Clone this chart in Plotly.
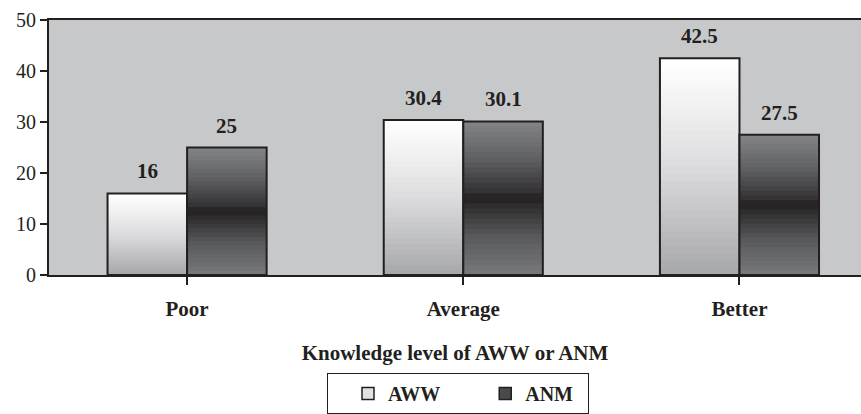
import plotly.graph_objects as go

categories = ["Poor", "Average", "Better"]
aww_values = [16, 30.4, 42.5]
anm_values = [25, 30.1, 27.5]
series_names = ["AWW", "ANM"]
y_ticks = [0, 10, 20, 30, 40, 50]

FONT = "Liberation Serif"
INK = "#231f20"
N_SEG = 30
BAR_W = 0.288
NB = "\u00a0"


def hex2rgb(h):
    h = h.lstrip("#")
    return [int(h[i:i + 2], 16) for i in (0, 2, 4)]


def grad(stops, t):
    for (t0, c0), (t1, c1) in zip(stops, stops[1:]):
        if t0 <= t <= t1:
            f = (t - t0) / (t1 - t0) if t1 > t0 else 0
            a, b = hex2rgb(c0), hex2rgb(c1)
            return "rgb(%d,%d,%d)" % tuple(round(a[i] + (b[i] - a[i]) * f) for i in range(3))
    return stops[-1][1]


aww_stops = [(0, "#a6a7aa"), (0.5, "#dcdcde"), (0.75, "#efeff0"), (1, "#ffffff")]
anm_stops = [(0, "#78797c"), (0.25, "#58595c"), (0.45, "#2f2d2e"), (0.5, "#221f20"),
             (0.55, "#353335"), (0.75, "#5e5f62"), (1, "#838487")]

x_idx = list(range(len(categories)))
fig = go.Figure()

for vals, stops, off in [(aww_values, aww_stops, -BAR_W), (anm_values, anm_stops, 0.0)]:
    for k in range(N_SEG):
        t = (k + 0.5) / N_SEG
        bases = [v * k / N_SEG for v in vals]
        heights = [min(v / N_SEG * 2.0, v - b) for v, b in zip(vals, bases)]
        fig.add_trace(go.Bar(
            x=x_idx, y=heights, base=bases,
            width=BAR_W, offset=off,
            marker=dict(color=grad(stops, t), line=dict(width=0)),
            showlegend=False, hoverinfo="skip"))
    fig.add_trace(go.Bar(
        x=x_idx, y=vals, base=[0] * len(vals), width=BAR_W, offset=off,
        marker=dict(color="rgba(0,0,0,0)", line=dict(width=2, color=INK)),
        showlegend=False, hoverinfo="skip"))

# legend entries
fig.add_trace(go.Bar(x=[None], y=[None], name=series_names[0] + NB * 8,
                     marker=dict(color="#e2e2e4", line=dict(width=1.5, color=INK))))
fig.add_trace(go.Bar(x=[None], y=[None], name=series_names[1] + NB * 2,
                     marker=dict(color="#4a4a4c", line=dict(width=1.5, color=INK))))

for vals, off in [(aww_values, -BAR_W / 2), (anm_values, BAR_W / 2)]:
    for i, v in enumerate(vals):
        fig.add_annotation(x=i + off, y=v, xref="x", yref="y", text=f"{v:g}",
                           showarrow=False, yanchor="bottom", yshift=8,
                           font=dict(family=FONT, size=21, color=INK, weight="bold"))

fig.update_layout(
    width=861, height=414,
    margin=dict(l=49, r=0, t=20, b=139, autoexpand=False),
    barmode="overlay",
    paper_bgcolor="white",
    plot_bgcolor="#c7c8ca",
    showlegend=True,
    legend=dict(orientation="h", x=(327 - 49) / 812, xanchor="left", y=-0.384, yanchor="top",
                bordercolor=INK, borderwidth=1, bgcolor="white",
                title=dict(text=NB * 2, font=dict(family=FONT, size=20, color=INK)),
                font=dict(family=FONT, size=20, color=INK, weight="bold"),
                itemwidth=30, traceorder="normal"),
    xaxis=dict(range=[-0.5, 2.44], tickmode="array", tickvals=x_idx, ticktext=categories,
               tickson="boundaries", ticks="outside", ticklen=8, tickcolor=INK, tickwidth=1.5,
               showline=True, linecolor=INK, linewidth=2, mirror=True,
               showgrid=False, zeroline=False, ticklabelstandoff=6, automargin=False,
               tickfont=dict(family=FONT, size=21, color=INK, weight="bold"),
               title=dict(text="Knowledge level of AWW or ANM", standoff=25,
                          font=dict(family=FONT, size=21, color=INK, weight="bold"))),
    yaxis=dict(range=[0, 50], tickmode="array", tickvals=y_ticks,
               ticks="outside", ticklen=7, tickcolor=INK, tickwidth=1.5,
               showline=True, linecolor=INK, linewidth=2, automargin=False,
               showgrid=False, zeroline=False,
               tickfont=dict(family=FONT, size=20, color=INK)),
)

fig.write_html("out.html", post_script="document.body.style.margin='0';",
               config={"displayModeBar": False})
